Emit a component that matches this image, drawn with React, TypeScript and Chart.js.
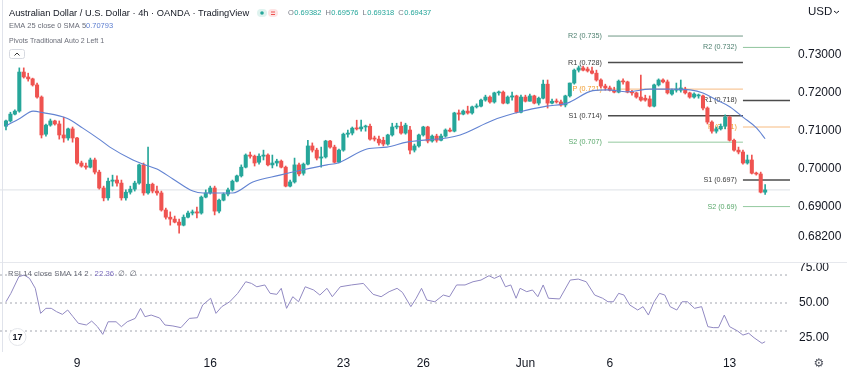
import React, { useEffect, useRef } from "react";
import { Chart, registerables } from "chart.js";

Chart.register(...registerables);

// ---- candle data (4h AUD/USD) ----
const openP = [
  0.7112, 0.7126, 0.7144, 0.7152, 0.7255, 0.7242, 0.7237, 0.7221, 0.7189, 0.7091,
  0.7115, 0.7126, 0.7118, 0.7089, 0.7081, 0.7105, 0.7081, 0.7015, 0.7007, 0.7004,
  0.7023, 0.6991, 0.6949, 0.6923, 0.6967, 0.6970, 0.6962, 0.6923, 0.6938, 0.6946,
  0.6962, 0.7010, 0.6936, 0.6959, 0.6941, 0.6936, 0.6891, 0.6872, 0.6867, 0.6859,
  0.6851, 0.6872, 0.6883, 0.6886, 0.6883, 0.6925, 0.6936, 0.6949, 0.6888, 0.6917,
  0.6933, 0.6944, 0.6967, 0.6981, 0.7004, 0.7036, 0.7033, 0.7017, 0.7033, 0.7036,
  0.7010, 0.7015, 0.7020, 0.7004, 0.6954, 0.6965, 0.7010, 0.6988, 0.7012, 0.7060,
  0.7049, 0.7028, 0.7031, 0.7073, 0.7057, 0.7017, 0.7049, 0.7091, 0.7094, 0.7107,
  0.7105, 0.7110, 0.7112, 0.7081, 0.7078, 0.7075, 0.7065, 0.7089, 0.7110, 0.7112,
  0.7094, 0.7102, 0.7049, 0.7060, 0.7089, 0.7110, 0.7073, 0.7086, 0.7075, 0.7086,
  0.7102, 0.7099, 0.7147, 0.7144, 0.7152, 0.7147, 0.7163, 0.7165, 0.7181, 0.7189,
  0.7176, 0.7200, 0.7202, 0.7173, 0.7189, 0.7192, 0.7149, 0.7189, 0.7178, 0.7192,
  0.7173, 0.7186, 0.7223, 0.7173, 0.7178, 0.7176, 0.7168, 0.7192, 0.7226, 0.7260,
  0.7266, 0.7263, 0.7258, 0.7252, 0.7234, 0.7218, 0.7213, 0.7207, 0.7202, 0.7231,
  0.7229, 0.7202, 0.7200, 0.7189, 0.7186, 0.7184, 0.7165, 0.7221, 0.7234, 0.7229,
  0.7197, 0.7207, 0.7207, 0.7210, 0.7200, 0.7189, 0.7192, 0.7192, 0.7160, 0.7123,
  0.7099, 0.7105, 0.7112, 0.7136, 0.7075, 0.7049, 0.7044, 0.7015, 0.7023, 0.6988,
  0.6986, 0.6938,
];
const highP = [
  0.7128, 0.7149, 0.7155, 0.7266, 0.7266, 0.7252, 0.7239, 0.7226, 0.7192, 0.7118,
  0.7131, 0.7128, 0.7126, 0.7136, 0.7107, 0.7110, 0.7083, 0.7020, 0.7015, 0.7028,
  0.7028, 0.6996, 0.6954, 0.6975, 0.6983, 0.6981, 0.6970, 0.6944, 0.6954, 0.6967,
  0.7012, 0.7015, 0.7057, 0.6962, 0.6954, 0.6941, 0.6896, 0.6886, 0.6875, 0.6867,
  0.6878, 0.6888, 0.6891, 0.6899, 0.6928, 0.6944, 0.6954, 0.6954, 0.6920, 0.6936,
  0.6949, 0.6970, 0.6983, 0.7010, 0.7039, 0.7044, 0.7036, 0.7039, 0.7049, 0.7039,
  0.7036, 0.7025, 0.7023, 0.7007, 0.6970, 0.7028, 0.7015, 0.7015, 0.7075, 0.7068,
  0.7054, 0.7057, 0.7075, 0.7075, 0.7062, 0.7052, 0.7094, 0.7102, 0.7110, 0.7128,
  0.7128, 0.7115, 0.7118, 0.7086, 0.7086, 0.7083, 0.7091, 0.7120, 0.7120, 0.7123,
  0.7120, 0.7112, 0.7065, 0.7091, 0.7112, 0.7112, 0.7089, 0.7091, 0.7091, 0.7105,
  0.7107, 0.7149, 0.7155, 0.7155, 0.7165, 0.7165, 0.7171, 0.7184, 0.7194, 0.7192,
  0.7202, 0.7205, 0.7205, 0.7192, 0.7202, 0.7194, 0.7194, 0.7194, 0.7197, 0.7194,
  0.7189, 0.7234, 0.7234, 0.7184, 0.7184, 0.7181, 0.7194, 0.7226, 0.7263, 0.7271,
  0.7271, 0.7268, 0.7268, 0.7260, 0.7237, 0.7223, 0.7218, 0.7215, 0.7234, 0.7237,
  0.7231, 0.7207, 0.7202, 0.7247, 0.7194, 0.7192, 0.7223, 0.7237, 0.7237, 0.7234,
  0.7210, 0.7226, 0.7234, 0.7215, 0.7202, 0.7200, 0.7197, 0.7194, 0.7163, 0.7126,
  0.7110, 0.7118, 0.7142, 0.7139, 0.7078, 0.7057, 0.7049, 0.7036, 0.7036, 0.6991,
  0.6991, 0.6958,
];
const lowP = [
  0.7102, 0.7123, 0.7142, 0.7149, 0.7239, 0.7231, 0.7218, 0.7186, 0.7081, 0.7086,
  0.7112, 0.7115, 0.7078, 0.7070, 0.7075, 0.7070, 0.7012, 0.7004, 0.6999, 0.7002,
  0.6986, 0.6946, 0.6915, 0.6917, 0.6954, 0.6954, 0.6917, 0.6917, 0.6933, 0.6941,
  0.6959, 0.6930, 0.6933, 0.6936, 0.6930, 0.6888, 0.6867, 0.6851, 0.6857, 0.6830,
  0.6849, 0.6870, 0.6878, 0.6870, 0.6880, 0.6923, 0.6933, 0.6878, 0.6883, 0.6915,
  0.6928, 0.6941, 0.6965, 0.6978, 0.7002, 0.7028, 0.7007, 0.7012, 0.7023, 0.7007,
  0.7002, 0.7007, 0.7002, 0.6952, 0.6952, 0.6962, 0.6981, 0.6983, 0.7010, 0.7044,
  0.7023, 0.7004, 0.7028, 0.7054, 0.7015, 0.7015, 0.7046, 0.7083, 0.7089, 0.7102,
  0.7099, 0.7099, 0.7075, 0.7073, 0.7062, 0.7060, 0.7062, 0.7086, 0.7105, 0.7091,
  0.7091, 0.7039, 0.7044, 0.7057, 0.7086, 0.7068, 0.7070, 0.7070, 0.7073, 0.7083,
  0.7097, 0.7097, 0.7128, 0.7142, 0.7144, 0.7144, 0.7160, 0.7163, 0.7178, 0.7173,
  0.7173, 0.7194, 0.7171, 0.7171, 0.7181, 0.7147, 0.7147, 0.7176, 0.7178, 0.7171,
  0.7168, 0.7184, 0.7160, 0.7171, 0.7173, 0.7165, 0.7163, 0.7189, 0.7223, 0.7255,
  0.7258, 0.7255, 0.7250, 0.7231, 0.7213, 0.7207, 0.7205, 0.7200, 0.7200, 0.7223,
  0.7200, 0.7194, 0.7186, 0.7178, 0.7178, 0.7163, 0.7163, 0.7218, 0.7226, 0.7197,
  0.7194, 0.7202, 0.7202, 0.7197, 0.7186, 0.7186, 0.7186, 0.7155, 0.7118, 0.7094,
  0.7094, 0.7102, 0.7105, 0.7073, 0.7046, 0.7039, 0.7012, 0.7012, 0.6986, 0.6983,
  0.6936, 0.6932,
];
const closeP = [
  0.7126, 0.7144, 0.7152, 0.7255, 0.7242, 0.7237, 0.7221, 0.7189, 0.7089, 0.7115,
  0.7126, 0.7118, 0.7089, 0.7081, 0.7105, 0.7081, 0.7015, 0.7007, 0.7004, 0.7023,
  0.6991, 0.6949, 0.6923, 0.6967, 0.6970, 0.6962, 0.6923, 0.6938, 0.6946, 0.6962,
  0.7010, 0.6936, 0.6959, 0.6941, 0.6936, 0.6891, 0.6872, 0.6867, 0.6859, 0.6851,
  0.6872, 0.6883, 0.6886, 0.6883, 0.6925, 0.6936, 0.6949, 0.6888, 0.6917, 0.6933,
  0.6944, 0.6967, 0.6981, 0.7004, 0.7036, 0.7033, 0.7015, 0.7033, 0.7036, 0.7010,
  0.7015, 0.7020, 0.7004, 0.6954, 0.6965, 0.7010, 0.6986, 0.7012, 0.7060, 0.7049,
  0.7028, 0.7031, 0.7073, 0.7057, 0.7017, 0.7049, 0.7091, 0.7094, 0.7107, 0.7105,
  0.7110, 0.7112, 0.7078, 0.7078, 0.7068, 0.7065, 0.7089, 0.7110, 0.7112, 0.7094,
  0.7115, 0.7049, 0.7060, 0.7089, 0.7110, 0.7073, 0.7086, 0.7075, 0.7086, 0.7102,
  0.7099, 0.7147, 0.7144, 0.7152, 0.7147, 0.7163, 0.7165, 0.7181, 0.7189, 0.7176,
  0.7200, 0.7202, 0.7173, 0.7189, 0.7192, 0.7149, 0.7189, 0.7178, 0.7192, 0.7173,
  0.7186, 0.7223, 0.7173, 0.7178, 0.7176, 0.7168, 0.7192, 0.7226, 0.7260, 0.7266,
  0.7260, 0.7258, 0.7252, 0.7234, 0.7218, 0.7213, 0.7207, 0.7202, 0.7231, 0.7229,
  0.7202, 0.7200, 0.7189, 0.7181, 0.7181, 0.7165, 0.7221, 0.7234, 0.7229, 0.7200,
  0.7207, 0.7210, 0.7213, 0.7200, 0.7189, 0.7197, 0.7194, 0.7160, 0.7123, 0.7099,
  0.7105, 0.7112, 0.7136, 0.7075, 0.7049, 0.7044, 0.7015, 0.7023, 0.6988, 0.6986,
  0.6938, 0.6944,
];

// EMA 25 (bar index, value)
const emaIdx = [
  0, 3.2, 6.1, 8.3, 13.7, 17.3, 21.2, 23.4, 28.6, 30.9, 34, 37.6, 42.1, 44.4, 46.6,
  51.1, 55.6, 61.7, 66.9, 72.3, 74.8, 81.3, 85.8, 90.3, 94.8, 99.3, 102.3, 109.7,
  115.8, 121.8, 126.4, 132.2, 135.4, 139.9, 145, 150.2, 154.1, 157, 160.1, 163.1,
  166, 169.1, 171,
];
const emaVal = [
  0.7113, 0.7133, 0.7152, 0.7148, 0.7133, 0.7107, 0.7076, 0.7057, 0.7023, 0.7012,
  0.6999, 0.6973, 0.6941, 0.6936, 0.6936, 0.6936, 0.6965, 0.6983, 0.6997, 0.7010,
  0.7015, 0.7052, 0.7057, 0.7070, 0.7076, 0.7081, 0.7089, 0.7128, 0.7150, 0.7165,
  0.7173, 0.7206, 0.7208, 0.7203, 0.7210, 0.7210, 0.7208, 0.7200, 0.7181, 0.7163,
  0.7136, 0.7107, 0.7079,
];

// RSI 14 (bar index, value)
const rsiIdx = [
  0, 1.1, 2.9, 4.1, 5.3, 6.6, 7.8, 9.0, 10.2, 11.4,
  12.7, 13.9, 15.1, 16.3, 18.1, 19.3, 20.6, 21.8, 23, 24.8,
  26, 27.3, 29.1, 30.3, 31.3, 32.7, 34.6, 35.8, 37.6, 39.4,
  41.3, 43.1, 44.3, 46.1, 47.3, 48.6, 50.4, 52.2, 54, 55.3,
  56.5, 58.3, 59.5, 61, 62, 63.2, 64.6, 65.9, 67.4, 69.3,
  70.7, 72.3, 73.5, 75.3, 77.8, 80.5, 82.7, 84.5, 86.3, 88.1,
  89.3, 91.2, 92.4, 93.6, 94.8, 96.6, 98.5, 99.9, 101.5, 103.4,
  105.2, 107, 108.8, 110, 111.3, 112.5, 113.7, 114.9, 115.8, 117.3,
  118.6, 119.8, 121, 122.2, 124.7, 127.1, 128.9, 130.7, 132.6, 134.4,
  135.6, 136.8, 138, 139.2, 140.5, 142.3, 143.5, 144.7, 146, 147.2,
  148.4, 149.6, 151.1, 152.3, 153.5, 155.1, 156.7, 158.1, 159.3, 160.5,
  161.8, 163, 164.8, 166, 167.3, 168.5, 170.3, 171,
];
const rsiVal = [
  50.9, 56.9, 68.8, 70, 67.6, 60.5, 42.6, 46.2, 46.2, 43.8,
  41.9, 45, 40.2, 35.5, 34.3, 37.1, 33.1, 27.6, 36.6, 36.6,
  33.1, 36.6, 39, 46.2, 40.2, 41.4, 39.3, 34.3, 33.6, 32.4,
  39, 39.5, 48.6, 53.4, 42.6, 47.4, 50.9, 56.9, 65.2, 64,
  61.6, 62.9, 56.9, 56.2, 60.5, 46.2, 54.5, 50.9, 61.6, 59.3,
  55.7, 60.5, 54.5, 61.6, 62.9, 64, 56.2, 54.5, 58.1, 60.5,
  57.6, 47.4, 53.4, 60.5, 52.1, 50.9, 55.7, 54.5, 62.9, 62.9,
  65.2, 66.4, 69.5, 67.6, 69.5, 61.6, 62.9, 53.4, 60.5, 58.1,
  59.3, 54.5, 62.9, 53.4, 52.9, 66.4, 67.1, 65.2, 55.7, 53.4,
  50.9, 50.9, 56.9, 55.7, 48.6, 45, 47.4, 41.4, 50.9, 56.9,
  55.7, 47.4, 45, 50.9, 50.9, 46.2, 47.4, 33.1, 32.4, 32.4,
  41.4, 33.1, 30, 27.1, 28.4, 25.2, 21.2, 22.36,
];
const rsiLevels = [70, 50, 30];

// axes
const priceTicks = [0.682, 0.69, 0.7, 0.71, 0.72, 0.73];
const rsiTicks = [25, 50, 75];
const dateTickIdx = [16, 46, 76, 94, 117, 136, 163];
const dateTickText = ["9", "16", "23", "26", "Jun", "6", "13"];

// weekly pivots (traditional)
const pivotNames = ["R2", "R1", "P", "S1", "S2"];
const pivotPrev = [0.735, 0.728, 0.721, 0.714, 0.707];
const pivotCurr = [0.732, 0.718, 0.711, 0.697, 0.69];
const pivotBounds = [135.6, 166, 176.6];

// texts
const titleText = "Australian Dollar / U.S. Dollar · 4h · OANDA · TradingView";
const ohlcText = ["O", "0.69382", "H", "0.69576", "L", "0.69318", "C", "0.69437"];
const emaLegend = "EMA 25 close 0 SMA 5";
const emaLast = "0.70793";
const pivotLegend = "Pivots Traditional Auto 2 Left 1";
const rsiLegend = "RSI 14 close SMA 14 2";
const rsiLast = "22.36";

const FONT = '"Liberation Sans", Arial, sans-serif';
const GREEN = "#26a69a";
const RED = "#ef5350";
const X_MIN = -1.35;
const X_MAX = 176.6;
const AXIS_W = 57;

export default function App() {
  const topRef = useRef<HTMLCanvasElement | null>(null);
  const botRef = useRef<HTMLCanvasElement | null>(null);

  useEffect(() => {
    const idx = closeP.map((_, i) => i);
    const colors = idx.map((i) => (closeP[i] >= openP[i] ? GREEN : RED));
    const last = closeP[closeP.length - 1];
    const pivotLineL = ["#6f9886", "#4c4c4c", "#f7bb80", "#4c4c4c", "#93c99f"];
    const pivotLineR = ["#8fc49d", "#4c4c4c", "#f7bb80", "#4c4c4c", "#93c99f"];
    const pivotText = ["#4f8070", "#3a3a3a", "#f19b2c", "#3a3a3a", "#5aa86c"];
    const pivotW = [1, 1.5, 1, 1.5, 1];
    const pivotSets = [pivotPrev, pivotCurr];

    const pivotDs: any[] = [];
    pivotSets.forEach((set, s) =>
      set.forEach((v, k) =>
        pivotDs.push({
          type: "line",
          data: [
            { x: pivotBounds[s], y: v },
            { x: pivotBounds[s + 1], y: v },
          ],
          borderColor: s === 0 ? pivotLineL[k] : pivotLineR[k],
          borderWidth: pivotW[k],
          pointRadius: 0,
          order: 3,
        })
      )
    );

    const yFit = (s: any) => {
      s.width = AXIS_W;
      s.paddingTop = 0;
      s.paddingBottom = 0;
    };

    const topOverlay = {
      id: "topOverlay",
      beforeDatasetsDraw(chart: any) {
        const { ctx, scales } = chart;
        const x = scales.x;
        const y = scales.y;
        ctx.save();
        ctx.font = `7.2px ${FONT}`;
        ctx.textAlign = "right";
        ctx.textBaseline = "middle";
        pivotSets.forEach((set, s) => {
          const px = x.getPixelForValue(pivotBounds[s]) - 6;
          set.forEach((v, k) => {
            ctx.fillStyle = pivotText[k];
            ctx.fillText(`${pivotNames[k]} (${v})`, px, y.getPixelForValue(v));
          });
        });
        ctx.restore();
      },
      afterDraw(chart: any) {
        const { ctx } = chart;
        ctx.save();
        ctx.textAlign = "left";
        ctx.textBaseline = "middle";
        ctx.font = `9.3px ${FONT}`;
        ctx.fillStyle = "#131722";
        ctx.fillText(titleText, 9, 13);
        // status pills
        ctx.fillStyle = "#dff3ef";
        ctx.beginPath();
        ctx.roundRect(257, 9, 10, 8, 4);
        ctx.fill();
        ctx.fillStyle = GREEN;
        ctx.beginPath();
        ctx.arc(262, 13, 1.8, 0, Math.PI * 2);
        ctx.fill();
        ctx.fillStyle = "#fde4e4";
        ctx.beginPath();
        ctx.roundRect(268, 9, 10, 8, 4);
        ctx.fill();
        ctx.strokeStyle = RED;
        ctx.lineWidth = 1;
        ctx.beginPath();
        ctx.moveTo(271, 12);
        ctx.lineTo(275, 12);
        ctx.moveTo(271, 14.5);
        ctx.lineTo(275, 14.5);
        ctx.stroke();
        // OHLC
        ctx.font = `7.5px ${FONT}`;
        let ox = 288;
        ohlcText.forEach((t, i) => {
          ctx.fillStyle = i % 2 === 0 ? "#787b86" : GREEN;
          ctx.fillText(t, ox, 13);
          ox += ctx.measureText(t).width + (i % 2 === 0 ? 0.5 : 4);
        });
        // EMA legend
        ctx.font = `7.5px ${FONT}`;
        ctx.fillStyle = "#6a6d78";
        ctx.fillText(emaLegend, 9, 26);
        ctx.fillStyle = "#5c7ed0";
        ctx.fillText(emaLast, 86, 26);
        // pivots legend
        ctx.font = `7px ${FONT}`;
        ctx.fillStyle = "#6a6d78";
        ctx.fillText(pivotLegend, 9, 41);
        // collapse button
        ctx.strokeStyle = "#d6d9e0";
        ctx.lineWidth = 1;
        ctx.beginPath();
        ctx.roundRect(9.5, 49.5, 15, 9, 2);
        ctx.stroke();
        ctx.strokeStyle = "#333";
        ctx.beginPath();
        ctx.moveTo(14.5, 55.5);
        ctx.lineTo(17, 53);
        ctx.lineTo(19.5, 55.5);
        ctx.stroke();
        // currency
        ctx.font = `11.5px ${FONT}`;
        ctx.fillStyle = "#131722";
        ctx.fillText("USD", 808, 12);
        ctx.strokeStyle = "#131722";
        ctx.beginPath();
        ctx.moveTo(834, 11);
        ctx.lineTo(836.5, 13);
        ctx.lineTo(839, 11);
        ctx.stroke();
        ctx.restore();
      },
    };

    const botOverlay = {
      id: "botOverlay",
      afterDraw(chart: any) {
        const { ctx } = chart;
        ctx.save();
        ctx.textAlign = "left";
        ctx.textBaseline = "middle";
        ctx.font = `7.8px ${FONT}`;
        ctx.fillStyle = "#6a6d78";
        ctx.fillText(rsiLegend, 8, 12);
        const w = ctx.measureText(rsiLegend).width;
        ctx.fillStyle = "#7e6fc0";
        ctx.fillText(rsiLast, 8 + w + 6, 12);
        const w2 = ctx.measureText(rsiLast).width;
        ctx.fillStyle = "#6a6d78";
        ctx.font = `7.8px "DejaVu Sans", sans-serif`;
        ctx.fillText("∅  ∅", 8 + w + 6 + w2 + 4, 12);
        // logo
        ctx.fillStyle = "#ffffff";
        ctx.strokeStyle = "#e3e5ea";
        ctx.beginPath();
        ctx.arc(17.5, 75, 8.5, 0, Math.PI * 2);
        ctx.fill();
        ctx.stroke();
        ctx.fillStyle = "#131722";
        ctx.font = `bold 9px ${FONT}`;
        ctx.textAlign = "center";
        ctx.fillText("17", 17.5, 75.5);
        // settings
        ctx.font = `12px "DejaVu Sans", sans-serif`;
        ctx.fillStyle = "#50535e";
        ctx.fillText("⚙", 819, 102);
        ctx.restore();
      },
    };

    const top = new Chart(topRef.current as HTMLCanvasElement, {
      type: "bar",
      data: {
        datasets: [
          {
            type: "line",
            data: emaIdx.map((x, i) => ({ x, y: emaVal[i] })),
            borderColor: "#6283d2",
            borderWidth: 1.1,
            pointRadius: 0,
            cubicInterpolationMode: "monotone",
            order: 0,
          },
          {
            type: "bar",
            data: idx.map((i) => ({ x: i, y: [openP[i], closeP[i]] })),
            backgroundColor: colors,
            barThickness: 3.4,
            minBarLength: 1,
            grouped: false,
            order: 1,
          },
          {
            type: "bar",
            data: idx.map((i) => ({ x: i, y: [lowP[i], highP[i]] })),
            backgroundColor: colors,
            barThickness: 1,
            grouped: false,
            order: 2,
          },
          ...pivotDs,
          {
            type: "line",
            data: [
              { x: X_MIN, y: last },
              { x: X_MAX, y: last },
            ],
            borderColor: "#dde1e6",
            borderWidth: 1,
            pointRadius: 0,
            order: 5,
          },
        ] as any,
      },
      options: {
        responsive: false,
        animation: false,
        layout: { padding: 0 },
        plugins: { legend: { display: false }, tooltip: { enabled: false } },
        scales: {
          x: { type: "linear", min: X_MIN, max: X_MAX, offset: false, display: false },
          y: {
            position: "right",
            min: 0.67538,
            max: 0.74451,
            grid: { display: false, drawTicks: false },
            border: { display: false },
            afterBuildTicks: (s: any) => {
              s.ticks = priceTicks.map((v) => ({ value: v }));
            },
            afterFit: yFit,
            ticks: {
              padding: 8,
              color: "#131722",
              font: { family: FONT, size: 12 },
              callback: (v: any) => Number(v).toFixed(5),
            },
          },
        },
      } as any,
      plugins: [topOverlay],
    });

    const bot = new Chart(botRef.current as HTMLCanvasElement, {
      type: "line",
      data: {
        datasets: [
          {
            data: rsiIdx.map((x, i) => ({ x, y: rsiVal[i] })),
            borderColor: "#9189c2",
            borderWidth: 1,
            pointRadius: 0,
            order: 0,
          },
          ...rsiLevels.map((lv) => ({
            data: [
              { x: X_MIN, y: lv },
              { x: X_MAX, y: lv },
            ],
            borderColor: "#a3a6af",
            borderWidth: 1,
            borderDash: [2, 3],
            pointRadius: 0,
            order: 1,
          })),
        ],
      },
      options: {
        responsive: false,
        animation: false,
        layout: { padding: 0 },
        plugins: { legend: { display: false }, tooltip: { enabled: false } },
        scales: {
          x: {
            type: "linear",
            min: X_MIN,
            max: X_MAX,
            offset: false,
            grid: { display: false, drawTicks: false },
            border: { display: false },
            afterBuildTicks: (s: any) => {
              s.ticks = dateTickIdx.map((v) => ({ value: v }));
            },
            afterFit: (s: any) => {
              s.height = 25;
              s.paddingLeft = 0;
              s.paddingRight = 0;
            },
            ticks: {
              autoSkip: false,
              maxRotation: 0,
              padding: 4,
              color: "#131722",
              font: { family: FONT, size: 12 },
              callback: (_v: any, i: number) => dateTickText[i],
            },
          },
          y: {
            position: "right",
            min: 15,
            max: 79.3,
            grid: { display: false, drawTicks: false },
            border: { display: false },
            afterBuildTicks: (s: any) => {
              s.ticks = rsiTicks.map((v) => ({ value: v }));
            },
            afterFit: yFit,
            ticks: {
              padding: 9,
              color: "#131722",
              font: { family: FONT, size: 12 },
              callback: (v: any) => Number(v).toFixed(2),
            },
          },
        },
      } as any,
      plugins: [botOverlay],
    });

    return () => {
      top.destroy();
      bot.destroy();
    };
  }, []);

  return (
    <div
      style={{
        position: "fixed",
        left: 0,
        top: 0,
        width: 847,
        height: 377,
        background: "#ffffff",
        overflow: "hidden",
      }}
    >
      <canvas ref={topRef} width={847} height={262} style={{ position: "absolute", left: 0, top: 0 }} />
      <canvas ref={botRef} width={847} height={115} style={{ position: "absolute", left: 0, top: 262 }} />
      <div style={{ position: "absolute", left: 0, top: 262, width: 847, height: 1, background: "#e6e8ed" }} />
      <div style={{ position: "absolute", left: 2, top: 0, width: 1, height: 352, background: "#e0e3eb" }} />
    </div>
  );
}
